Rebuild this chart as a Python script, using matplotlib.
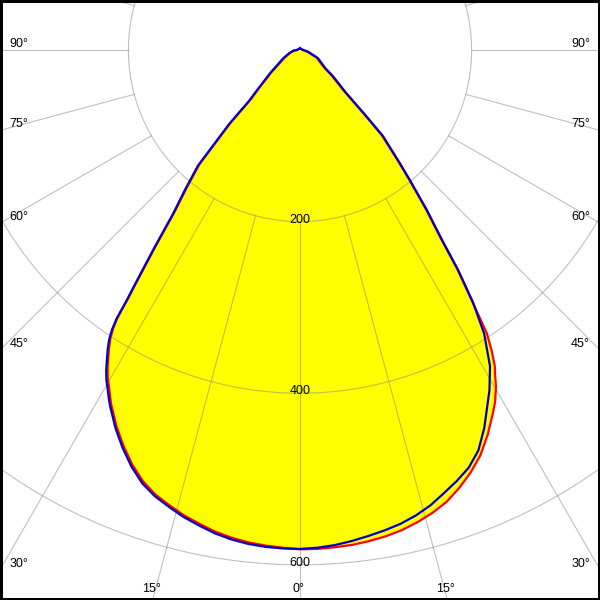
import numpy as np
import matplotlib
matplotlib.use('Agg')
import matplotlib.pyplot as plt
from matplotlib.patches import Rectangle

plt.rcParams['font.family'] = ['Liberation Sans', 'DejaVu Sans']

# luminous intensity, angle from nadir in degrees (negative = left half), cd
# C90 - C270 plane (blue)
blue_deg = [-180, -120, -90, -84, -72, -63.6, -52.2, -47.3, -45, -43.7, -41.4,
            -39.5, -37.8, -36.3, -35, -34.7, -34.5, -34.3, -33.9, -33.4, -32.7,
            -31.9, -31.2, -30.4, -29.5, -28.6, -28, -26, -24, -22, -20, -18, -16,
            -14, -12, -10, -8, -6, -4, -2, 0, 2, 4, 6, 8, 10, 12, 14, 16, 18, 20,
            22, 24, 26, 28, 29.1, 31, 33, 34.45, 35.7, 36.8, 38.4, 40.2, 41.4,
            43.9, 45, 47.2, 51.3, 54, 65.6, 78, 90, 120, 180]
blue_cd = [2, 2, 4, 8, 14, 22, 44, 66, 84, 120, 180,
           210, 241, 289, 341, 354, 367, 380, 393, 404, 415,
           426, 436, 446, 455, 465, 471, 490.5, 508, 524, 537.5, 547, 554,
           561, 566.5, 572, 576, 578.8, 580.5, 581.3, 581.5, 580.5, 578.5, 575.5, 572, 568.5, 564.5, 559, 552, 543, 534.5,
           525, 511, 490, 466, 454, 430, 394, 356, 316, 276, 238, 198, 176,
           140, 110, 72, 50, 37, 23, 10, 4, 2, 2]

# C0 - C180 plane (red)
red_deg = [-180, -120, -90, -84, -72, -63.6, -52.2, -47.3, -45, -43.7, -41.4,
           -39.5, -37.8, -36.3, -35, -34.7, -34.5, -34.3, -33.9, -33.4, -32.7,
           -31.9, -31.2, -30.4, -29.5, -28.6, -28, -26, -24, -22, -20, -18, -16,
           -14, -12, -10, -8, -6, -4, -2, 0, 2, 4, 6, 8, 10, 12, 14, 16, 18, 20,
           22, 24, 26, 28, 29, 30.2, 31.1, 31.6, 32.5, 33.4, 34.45, 35.7, 36.8,
           38.4, 40.2, 41.4, 43.9, 45, 47.2, 51.3, 54, 65.6, 78, 90, 120, 180]
red_cd = [2, 2, 3, 7, 13, 20, 42, 64, 81, 117, 177,
          207, 238, 286, 338, 351, 364, 377, 390, 401, 412,
          423, 433, 443, 452, 462, 468.5, 488, 505.5, 521.5, 535, 545, 552,
          559, 564.5, 570, 574, 577, 579, 580.5, 582, 581.8, 581, 580, 578, 575.5, 572, 567, 561, 553.5, 543,
          531, 517, 499, 479, 469, 454, 440, 433.5, 416, 395.5, 354, 314, 274,
          236, 196, 174, 137, 107, 69, 47, 35, 21, 8, 3, 2, 2]

rings = [200, 400, 600]
ring_labels = ['200', '400', '600']
side_angles = [90, 75, 60, 45, 30]
side_labels = ['90°', '75°', '60°', '45°', '30°']
bottom_angles = [-15, 0, 15]
bottom_labels = ['15°', '0°', '15°']

W = 600
cx, cy = 300, 50          # pole position in pixels (from top left)
px_per_cd = 0.858
rmax = 730
R = rmax * px_per_cd

fig = plt.figure(figsize=(6, 6), dpi=100)
fig.patch.set_facecolor('white')
ax = fig.add_axes([(cx - R) / W, (W - cy - R) / W, 2 * R / W, 2 * R / W],
                  projection='polar')
ax.set_theta_zero_location('S')
ax.set_theta_direction(1)
ax.set_ylim(0, rmax)
ax.axis('off')

th_b = np.radians(blue_deg)
th_r = np.radians(red_deg)
ax.fill(th_r, red_cd, color='#ffff00', lw=0, zorder=1)
ax.fill(th_b, blue_cd, color='#ffff00', lw=0, zorder=1)

# grid on top of the fill
gcol = '#808080'
full = np.radians(np.linspace(0, 360, 721))
for r in rings:
    ax.plot(full, [r] * len(full), color=gcol, alpha=0.5, lw=0.8, zorder=2)
for a in range(-180, 180, 15):
    ax.plot([np.radians(a)] * 2, [rings[0], rmax], color=gcol, alpha=0.5, lw=0.8, zorder=2)

ax.plot(th_r, red_cd, color='#ff0000', lw=1.6, zorder=3)
ax.plot(th_b, blue_cd, color='#0000cc', lw=1.6, zorder=4)

for r, s in zip(rings, ring_labels):
    ax.text(0, r + 1.5, s, ha='center', va='baseline', fontsize=9, zorder=5)

for a, s in zip(side_angles, side_labels):
    y = cy + cx / np.tan(np.radians(a))
    fig.text(9.5 / W, 1 - (y - 3) / W, s, ha='left', va='baseline', fontsize=9)
    fig.text(590 / W, 1 - (y - 3) / W, s, ha='right', va='baseline', fontsize=9)

for a, s in zip(bottom_angles, bottom_labels):
    x = cx + (W - cy) * np.tan(np.radians(a))
    fig.text((x - 1.5) / W, 8 / W, s, ha='center', va='baseline', fontsize=9)

fig.patches.append(Rectangle((0, 0), 1, 1, transform=fig.transFigure, fill=False,
                             edgecolor='black', lw=3.6, zorder=10))

fig.savefig('out.png', dpi=100)
plt.close()
